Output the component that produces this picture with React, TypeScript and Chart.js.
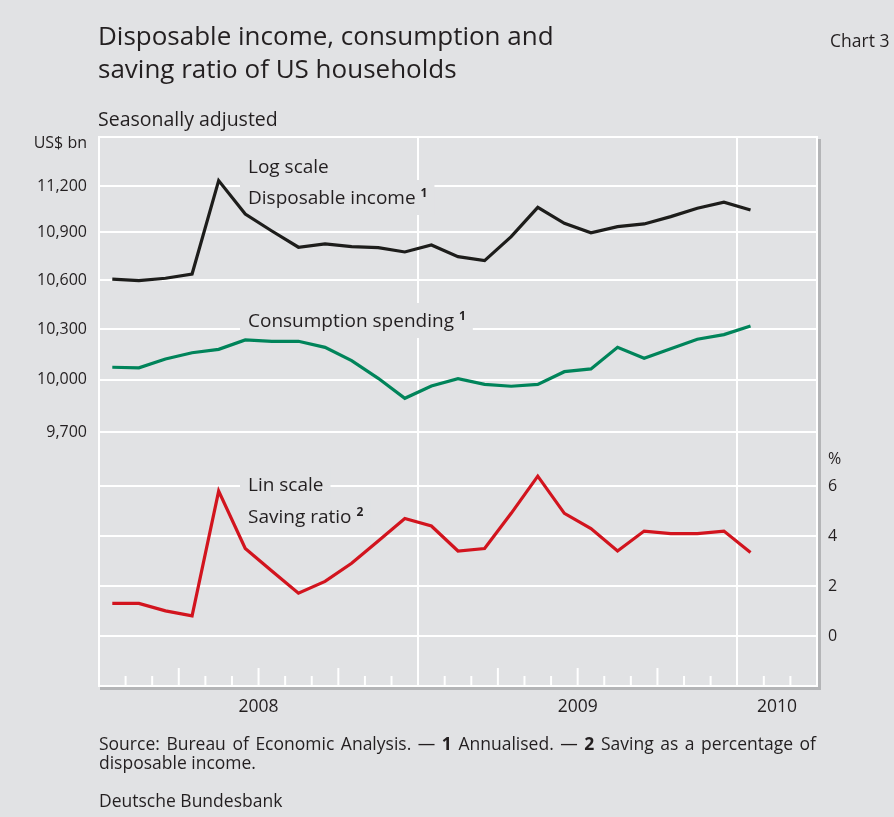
import React, { useEffect, useRef } from 'react';
import { Chart, registerables } from 'chart.js';

Chart.register(...registerables);

// ---- data (monthly, Jan 2008 – Jan 2010) ----
const months = [
  'Jan 2008', 'Feb 2008', 'Mar 2008', 'Apr 2008', 'May 2008', 'Jun 2008', 'Jul 2008', 'Aug 2008', 'Sep 2008', 'Oct 2008', 'Nov 2008', 'Dec 2008',
  'Jan 2009', 'Feb 2009', 'Mar 2009', 'Apr 2009', 'May 2009', 'Jun 2009', 'Jul 2009', 'Aug 2009', 'Sep 2009', 'Oct 2009', 'Nov 2009', 'Dec 2009',
  'Jan 2010',
];
const disposableIncome = [
  10607, 10597, 10612, 10638, 11235, 11018, 10909, 10806, 10827, 10810, 10803, 10776,
  10820, 10747, 10722, 10873, 11061, 10958, 10898, 10937, 10954, 11001, 11055, 11094,
  11044,
];
const consumptionSpending = [
  10074, 10071, 10123, 10160, 10180, 10236, 10228, 10228, 10192, 10113, 10009, 9893,
  9964, 10007, 9974, 9963, 9974, 10048, 10064, 10192, 10127, 10184, 10240, 10268,
  10320,
];
const savingRatio = [
  1.31, 1.31, 1.01, 0.81, 5.81, 3.51, 2.61, 1.72, 2.19, 2.92, 3.81, 4.71,
  4.41, 3.41, 3.51, 4.92, 6.41, 4.92, 4.31, 3.41, 4.21, 4.11, 4.11, 4.21,
  3.35,
];
const leftTicks = [9700, 10000, 10300, 10600, 10900, 11200];
const rightTicks = [0, 2, 4, 6];
const yearLabels = ['2008', '2009', '2010'];
const yearLabelPositions = [5.5, 17.5, 25];
const yearBoundaries = [11.5, 23.5];

const BG = '#e1e2e4';
const TEXT = '#231f20';
const FONT = '"Open Sans", "Noto Sans", sans-serif';

function drawBoxedLabel(ctx: CanvasRenderingContext2D, text: string, x: number, baseline: number, sup?: string) {
  ctx.font = `19px ${FONT}`;
  const w = ctx.measureText(text).width;
  let sw = 0;
  if (sup) {
    ctx.font = `bold 12px ${FONT}`;
    sw = ctx.measureText(sup).width + 5;
  }
  ctx.fillStyle = BG;
  ctx.fillRect(x - 8, baseline - 24, w + sw + 15, 35);
  ctx.fillStyle = TEXT;
  ctx.textBaseline = 'alphabetic';
  ctx.textAlign = 'left';
  ctx.font = `19px ${FONT}`;
  ctx.fillText(text, x, baseline);
  if (sup) {
    ctx.font = `bold 12px ${FONT}`;
    ctx.fillText(sup, x + w + 5, baseline - 7);
  }
}

function drawJustified(ctx: CanvasRenderingContext2D, segs: [string, boolean][], x0: number, x1: number, y: number, size: number) {
  const fontOf = (b: boolean) => `${b ? 'bold ' : ''}${size}px ${FONT}`;
  let total = 0;
  let spaces = 0;
  for (const [t, b] of segs) {
    ctx.font = fontOf(b);
    total += ctx.measureText(t).width;
    spaces += (t.match(/ /g) || []).length;
  }
  const extra = spaces > 0 ? Math.max(0, (x1 - x0 - total) / spaces) : 0;
  let x = x0;
  for (const [t, b] of segs) {
    ctx.font = fontOf(b);
    const parts = t.split(' ');
    parts.forEach((p, i) => {
      if (p) {
        ctx.fillText(p, x, y);
        x += ctx.measureText(p).width;
      }
      if (i < parts.length - 1) x += ctx.measureText(' ').width + extra;
    });
  }
}

const decorPlugin = {
  id: 'decor',
  beforeDraw(chart: any) {
    const { ctx, chartArea: a } = chart;
    ctx.save();
    ctx.fillStyle = BG;
    ctx.fillRect(0, 0, chart.width, chart.height);
    ctx.fillStyle = '#b4b5b7';
    ctx.fillRect(a.left + 1, a.bottom + 1, a.right - a.left + 3, 3);
    ctx.fillRect(a.right + 1, a.top + 2, 3, a.bottom - a.top + 2);
    ctx.restore();
  },
  beforeDatasetsDraw(chart: any) {
    const { ctx, chartArea: a } = chart;
    const xs = chart.scales.x;
    ctx.save();
    ctx.strokeStyle = '#ffffff';
    ctx.lineWidth = 2;
    ctx.strokeRect(a.left, a.top, a.right - a.left, a.bottom - a.top);
    // month tick marks inside the plot
    for (let k = 1; k <= 26; k++) {
      const v = -0.5 + k;
      if (yearBoundaries.includes(v)) continue;
      const px = xs.getPixelForValue(v);
      const len = k % 3 === 0 ? 18 : 10;
      ctx.beginPath();
      ctx.moveTo(px, a.bottom);
      ctx.lineTo(px, a.bottom - len);
      ctx.stroke();
    }
    drawBoxedLabel(ctx, 'Log scale', 248, 173);
    drawBoxedLabel(ctx, 'Disposable income', 248, 204, '1');
    drawBoxedLabel(ctx, 'Consumption spending', 248, 327, '1');
    drawBoxedLabel(ctx, 'Lin scale', 248, 491);
    drawBoxedLabel(ctx, 'Saving ratio', 248, 523, '2');
    ctx.restore();
  },
  afterDraw(chart: any) {
    const { ctx } = chart;
    ctx.save();
    ctx.fillStyle = TEXT;
    ctx.textBaseline = 'alphabetic';
    ctx.textAlign = 'left';
    ctx.font = `26px ${FONT}`;
    ctx.fillText('Disposable income, consumption and', 98, 45);
    ctx.fillText('saving ratio of US households', 98, 78);
    ctx.font = `19.5px ${FONT}`;
    ctx.fillText('Seasonally adjusted', 98, 126);
    ctx.font = `17.5px ${FONT}`;
    ctx.fillText('Chart 3', 830, 47);
    ctx.font = `16px ${FONT}`;
    ctx.textAlign = 'right';
    ctx.fillText('US$ bn', 87, 148);
    ctx.textAlign = 'left';
    ctx.fillText('%', 828, 464);
    // footer
    drawJustified(ctx, [
      ['Source: Bureau of Economic Analysis. — ', false],
      ['1', true],
      [' Annualised. — ', false],
      ['2', true],
      [' Saving as a percentage of', false],
    ], 99, 816, 750, 17.5);
    ctx.font = `17.5px ${FONT}`;
    ctx.fillText('disposable income.', 99, 769);
    ctx.fillText('Deutsche Bundesbank', 99, 807);
    ctx.restore();
  },
};

export default function App() {
  const ref = useRef<HTMLCanvasElement>(null);
  useEffect(() => {
    if (!ref.current) return;
    const tickFont = { family: FONT, size: 16 };
    const chart = new Chart(ref.current, {
      type: 'line',
      data: {
        labels: months,
        datasets: [
          {
            label: 'Saving ratio',
            data: savingRatio.map((v, i) => ({ x: i, y: v })),
            yAxisID: 'y2',
            borderColor: '#d2141e',
            borderWidth: 3.2,
            pointRadius: 0,
            tension: 0,
          },
          {
            label: 'Consumption spending',
            data: consumptionSpending.map((v, i) => ({ x: i, y: v })),
            yAxisID: 'y',
            borderColor: '#00845a',
            borderWidth: 3.2,
            pointRadius: 0,
            tension: 0,
          },
          {
            label: 'Disposable income',
            data: disposableIncome.map((v, i) => ({ x: i, y: v })),
            yAxisID: 'y',
            borderColor: '#1d1d1b',
            borderWidth: 3.2,
            pointRadius: 0,
            tension: 0,
          },
        ],
      },
      options: {
        responsive: false,
        animation: false,
        layout: { padding: { top: 137, left: 0, right: 0, bottom: 0 } },
        plugins: { legend: { display: false }, tooltip: { enabled: false } },
        scales: {
          x: {
            type: 'linear',
            min: -0.5,
            max: 26.5,
            afterBuildTicks: (s: any) => {
              s.ticks = [...yearBoundaries, ...yearLabelPositions].sort((p, q) => p - q).map((v) => ({ value: v }));
            },
            afterFit: (s: any) => { s.height = 131; },
            grid: {
              color: (c: any) => (c.tick && yearBoundaries.includes(c.tick.value) ? '#ffffff' : 'rgba(0,0,0,0)'),
              lineWidth: 2,
              drawTicks: false,
            },
            border: { display: false },
            ticks: {
              autoSkip: false,
              maxRotation: 0,
              padding: 11,
              color: TEXT,
              font: { family: FONT, size: 17.5 },
              callback: (v: any) => {
                const idx = yearLabelPositions.indexOf(Number(v));
                return idx >= 0 ? yearLabels[idx] : '';
              },
            },
          },
          y: {
            type: 'logarithmic',
            position: 'left',
            min: 8362,
            max: 11525,
            afterBuildTicks: (s: any) => { s.ticks = leftTicks.map((v) => ({ value: v })); },
            afterFit: (s: any) => { s.width = 99; },
            grid: { color: '#ffffff', lineWidth: 2, drawTicks: false },
            border: { display: false },
            ticks: {
              padding: 12,
              color: TEXT,
              font: tickFont,
              callback: (v: any) => Number(v).toLocaleString('en-US'),
            },
          },
          y2: {
            type: 'linear',
            position: 'right',
            min: -2,
            max: 20,
            afterBuildTicks: (s: any) => { s.ticks = rightTicks.map((v) => ({ value: v })); },
            afterFit: (s: any) => { s.width = 77; },
            grid: { color: '#ffffff', lineWidth: 2, drawTicks: false },
            border: { display: false },
            ticks: { padding: 11, color: TEXT, font: tickFont },
          },
        },
      },
      plugins: [decorPlugin],
    } as any);
    return () => chart.destroy();
  }, []);
  return (
    <div style={{ position: 'fixed', left: 0, top: 0, width: 894, height: 817, background: BG }}>
      <canvas ref={ref} width={894} height={817} />
    </div>
  );
}
